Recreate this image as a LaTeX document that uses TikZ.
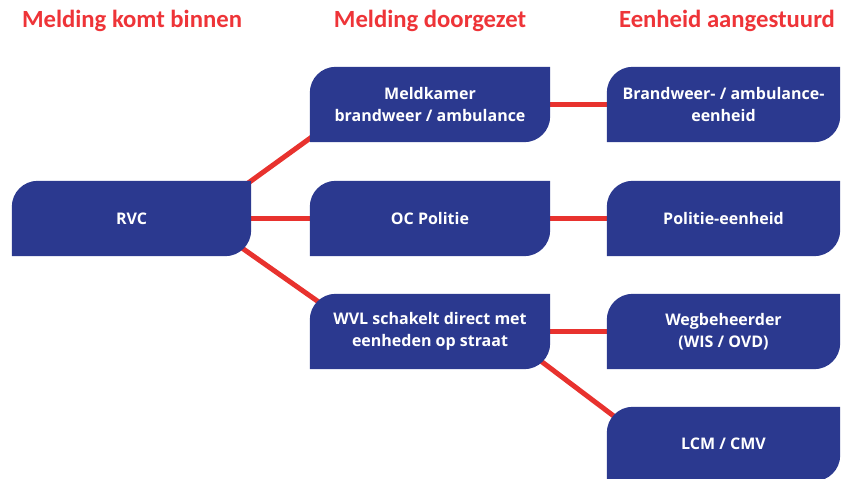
\documentclass[tikz,border=0pt]{standalone}
\usepackage{fontspec}
\setmainfont{Open Sans}
\newfontfamily\headfont{Carlito}
\usetikzlibrary{backgrounds,calc}
\definecolor{boxblue}{RGB}{43,57,143}
\definecolor{linered}{RGB}{232,50,46}
\definecolor{headred}{RGB}{238,52,56}
\tikzset{
  box/.style={rectangle, inner sep=0pt, minimum height=75pt, text=white,
    align=center, font=\bfseries\fontsize{16}{21.5}\selectfont},
  midbox/.style={box, minimum width=240pt},
  rightbox/.style={box, minimum width=233pt},
  head/.style={anchor=base, text=headred, font=\headfont\bfseries\fontsize{24.7}{28}\selectfont},
  conn/.style={draw=linered, line width=5pt},
}
\newcommand\boxfill[1]{%
  \fill[boxblue] (#1.south west) -- ([yshift=-26pt]#1.north west)
    arc[start angle=180,end angle=90,radius=26pt] -- (#1.north east)
    -- ([yshift=26pt]#1.south east)
    arc[start angle=0,end angle=-90,radius=26pt] -- cycle;}
\begin{document}
\begin{tikzpicture}[x=1pt,y=1pt]
\useasboundingbox (0,0) rectangle (841,479);
% headers
\node[head] (h1) at (132,451) {Melding komt binnen};
\node[head] (h2) at (430,451) {Melding doorgezet};
\node[head] (h3) at (727,451) {Eenheid aangestuurd};
% boxes
\node[box, minimum width=239pt] (rvc) at (131.5,260.5) {RVC};
\node[midbox] (mk) at (430,374.5) {Meldkamer\\brandweer / ambulance};
\node[midbox] (oc) at (430,260.5) {OC Politie};
\node[midbox] (wvl) at (430,147.5) {WVL schakelt direct met\\eenheden op straat};
\node[rightbox] (bw) at (723.5,374.5) {Brandweer- / ambulance-\\eenheid};
\node[rightbox] (pol) at (723.5,260.5) {Politie-eenheid};
\node[rightbox] (weg) at (723.5,147.5) {Wegbeheerder\\(WIS / OVD)};
\node[rightbox, minimum height=74pt] (lcm) at (723.5,35) {LCM / CMV};
\begin{scope}[on background layer]
  % connectors
  \draw[conn] ($(rvc.north east)+(-11,-8)$) -- ($(mk.south west)+(10,11)$);
  \draw[conn] (rvc.east) -- (oc.west);
  \draw[conn] ($(rvc.south east)+(-26,20)$) -- ($(wvl.north west)+(20,-16)$);
  \draw[conn] (mk.east) -- (bw.west);
  \draw[conn] (oc.east) -- (pol.west);
  \draw[conn] (wvl.east) -- (weg.west);
  \draw[conn] ($(wvl.south east)+(-25,20)$) -- ($(lcm.north west)+(18,-17.6)$);
  % box shapes
  \boxfill{rvc}
  \boxfill{mk}
  \boxfill{oc}
  \boxfill{wvl}
  \boxfill{bw}
  \boxfill{pol}
  \boxfill{weg}
  \boxfill{lcm}
\end{scope}
\end{tikzpicture}
\end{document}
